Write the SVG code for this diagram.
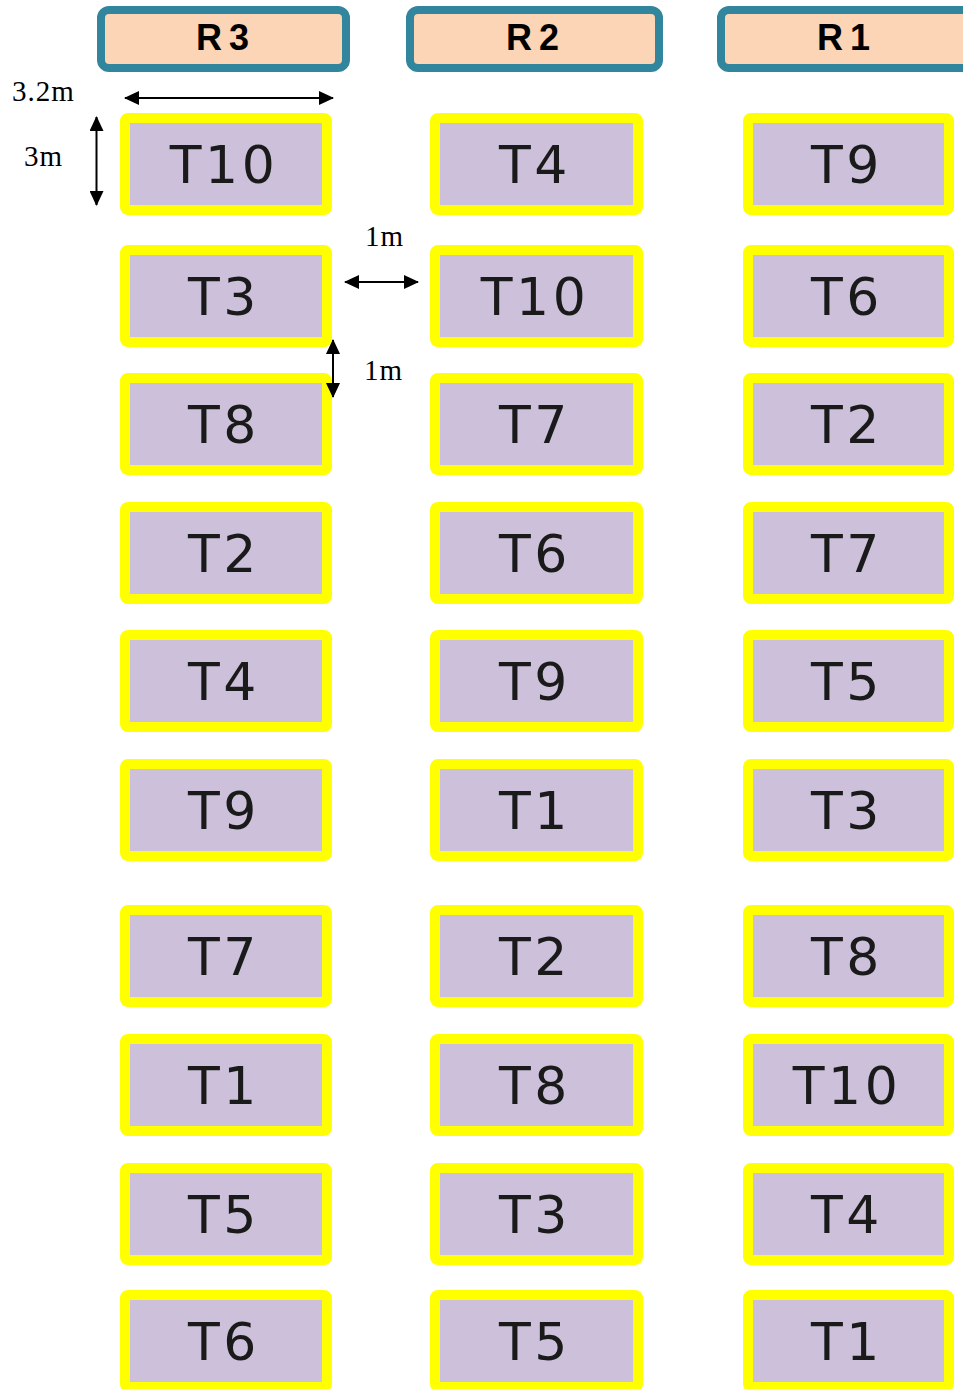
<svg xmlns="http://www.w3.org/2000/svg" width="963" height="1389" viewBox="0 0 963 1389">
<defs>
<style>
.hdr{fill:#FBD5B5;stroke:#31859C;stroke-width:8}
.hdrt{font-family:"Liberation Sans",Arial,sans-serif;font-weight:bold;font-size:36px;fill:#000;text-anchor:middle;letter-spacing:7px}
.tile{fill:#CCC0DA;stroke:#FFFF00;stroke-width:10}
.tt{font-family:"DejaVu Sans",Verdana,sans-serif;font-size:52px;fill:#1a1a1a;text-anchor:middle;letter-spacing:3.5px}
.dim{stroke:#000;stroke-width:2;fill:none;marker-start:url(#ah);marker-end:url(#ah)}
.dt{font-family:"Liberation Serif","Times New Roman",serif;font-size:29px;fill:#000;letter-spacing:1px}
</style>
<marker id="ah" viewBox="0 0 15 14" refX="14" refY="7" markerWidth="15" markerHeight="14" markerUnits="userSpaceOnUse" orient="auto-start-reverse">
<path d="M0,0 L15,7 L0,14 z" fill="#000"/>
</marker>
</defs>
<rect width="963" height="1389" fill="#fff"/>

<g id="R3"><rect class="hdr" x="101" y="10" width="245" height="58" rx="8"/><text class="hdrt" x="226" y="50">R3</text></g>
<g id="R2"><rect class="hdr" x="410" y="10" width="249" height="58" rx="8"/><text class="hdrt" x="536" y="50">R2</text></g>
<g id="R1"><rect class="hdr" x="721" y="10" width="252" height="58" rx="8"/><text class="hdrt" x="847" y="50">R1</text></g>

<g id="col-R3">
<g id="r3-1"><rect class="tile" x="125" y="118" width="202" height="92" rx="3"/><text class="tt" x="224" y="183">T10</text></g>
<g id="r3-2"><rect class="tile" x="125" y="250" width="202" height="92" rx="3"/><text class="tt" x="224" y="315">T3</text></g>
<g id="r3-3"><rect class="tile" x="125" y="378" width="202" height="92" rx="3"/><text class="tt" x="224" y="443">T8</text></g>
<g id="r3-4"><rect class="tile" x="125" y="507" width="202" height="92" rx="3"/><text class="tt" x="224" y="572">T2</text></g>
<g id="r3-5"><rect class="tile" x="125" y="635" width="202" height="92" rx="3"/><text class="tt" x="224" y="700">T4</text></g>
<g id="r3-6"><rect class="tile" x="125" y="764" width="202" height="92" rx="3"/><text class="tt" x="224" y="829">T9</text></g>
<g id="r3-7"><rect class="tile" x="125" y="910" width="202" height="92" rx="3"/><text class="tt" x="224" y="975">T7</text></g>
<g id="r3-8"><rect class="tile" x="125" y="1039" width="202" height="92" rx="3"/><text class="tt" x="224" y="1104">T1</text></g>
<g id="r3-9"><rect class="tile" x="125" y="1168" width="202" height="92" rx="3"/><text class="tt" x="224" y="1233">T5</text></g>
<g id="r3-10"><rect class="tile" x="125" y="1295" width="202" height="92" rx="3"/><text class="tt" x="224" y="1360">T6</text></g>
</g>

<g id="col-R2">
<g id="r2-1"><rect class="tile" x="435" y="118" width="203" height="92" rx="3"/><text class="tt" x="535" y="183">T4</text></g>
<g id="r2-2"><rect class="tile" x="435" y="250" width="203" height="92" rx="3"/><text class="tt" x="535" y="315">T10</text></g>
<g id="r2-3"><rect class="tile" x="435" y="378" width="203" height="92" rx="3"/><text class="tt" x="535" y="443">T7</text></g>
<g id="r2-4"><rect class="tile" x="435" y="507" width="203" height="92" rx="3"/><text class="tt" x="535" y="572">T6</text></g>
<g id="r2-5"><rect class="tile" x="435" y="635" width="203" height="92" rx="3"/><text class="tt" x="535" y="700">T9</text></g>
<g id="r2-6"><rect class="tile" x="435" y="764" width="203" height="92" rx="3"/><text class="tt" x="535" y="829">T1</text></g>
<g id="r2-7"><rect class="tile" x="435" y="910" width="203" height="92" rx="3"/><text class="tt" x="535" y="975">T2</text></g>
<g id="r2-8"><rect class="tile" x="435" y="1039" width="203" height="92" rx="3"/><text class="tt" x="535" y="1104">T8</text></g>
<g id="r2-9"><rect class="tile" x="435" y="1168" width="203" height="92" rx="3"/><text class="tt" x="535" y="1233">T3</text></g>
<g id="r2-10"><rect class="tile" x="435" y="1295" width="203" height="92" rx="3"/><text class="tt" x="535" y="1360">T5</text></g>
</g>

<g id="col-R1">
<g id="r1-1"><rect class="tile" x="748" y="118" width="201" height="92" rx="3"/><text class="tt" x="847" y="183">T9</text></g>
<g id="r1-2"><rect class="tile" x="748" y="250" width="201" height="92" rx="3"/><text class="tt" x="847" y="315">T6</text></g>
<g id="r1-3"><rect class="tile" x="748" y="378" width="201" height="92" rx="3"/><text class="tt" x="847" y="443">T2</text></g>
<g id="r1-4"><rect class="tile" x="748" y="507" width="201" height="92" rx="3"/><text class="tt" x="847" y="572">T7</text></g>
<g id="r1-5"><rect class="tile" x="748" y="635" width="201" height="92" rx="3"/><text class="tt" x="847" y="700">T5</text></g>
<g id="r1-6"><rect class="tile" x="748" y="764" width="201" height="92" rx="3"/><text class="tt" x="847" y="829">T3</text></g>
<g id="r1-7"><rect class="tile" x="748" y="910" width="201" height="92" rx="3"/><text class="tt" x="847" y="975">T8</text></g>
<g id="r1-8"><rect class="tile" x="748" y="1039" width="201" height="92" rx="3"/><text class="tt" x="847" y="1104">T10</text></g>
<g id="r1-9"><rect class="tile" x="748" y="1168" width="201" height="92" rx="3"/><text class="tt" x="847" y="1233">T4</text></g>
<g id="r1-10"><rect class="tile" x="748" y="1295" width="201" height="92" rx="3"/><text class="tt" x="847" y="1360">T1</text></g>
</g>

<g id="dimensions">
<line class="dim" x1="125" y1="98" x2="333" y2="98"/>
<line class="dim" x1="96.5" y1="117" x2="96.5" y2="205"/>
<line class="dim" x1="345" y1="282" x2="418" y2="282"/>
<line class="dim" x1="333" y1="340" x2="333" y2="397"/>
<text class="dt" x="12" y="101">3.2m</text>
<text class="dt" x="24" y="166">3m</text>
<text class="dt" x="365" y="246">1m</text>
<text class="dt" x="364" y="380">1m</text>
</g>
</svg>
